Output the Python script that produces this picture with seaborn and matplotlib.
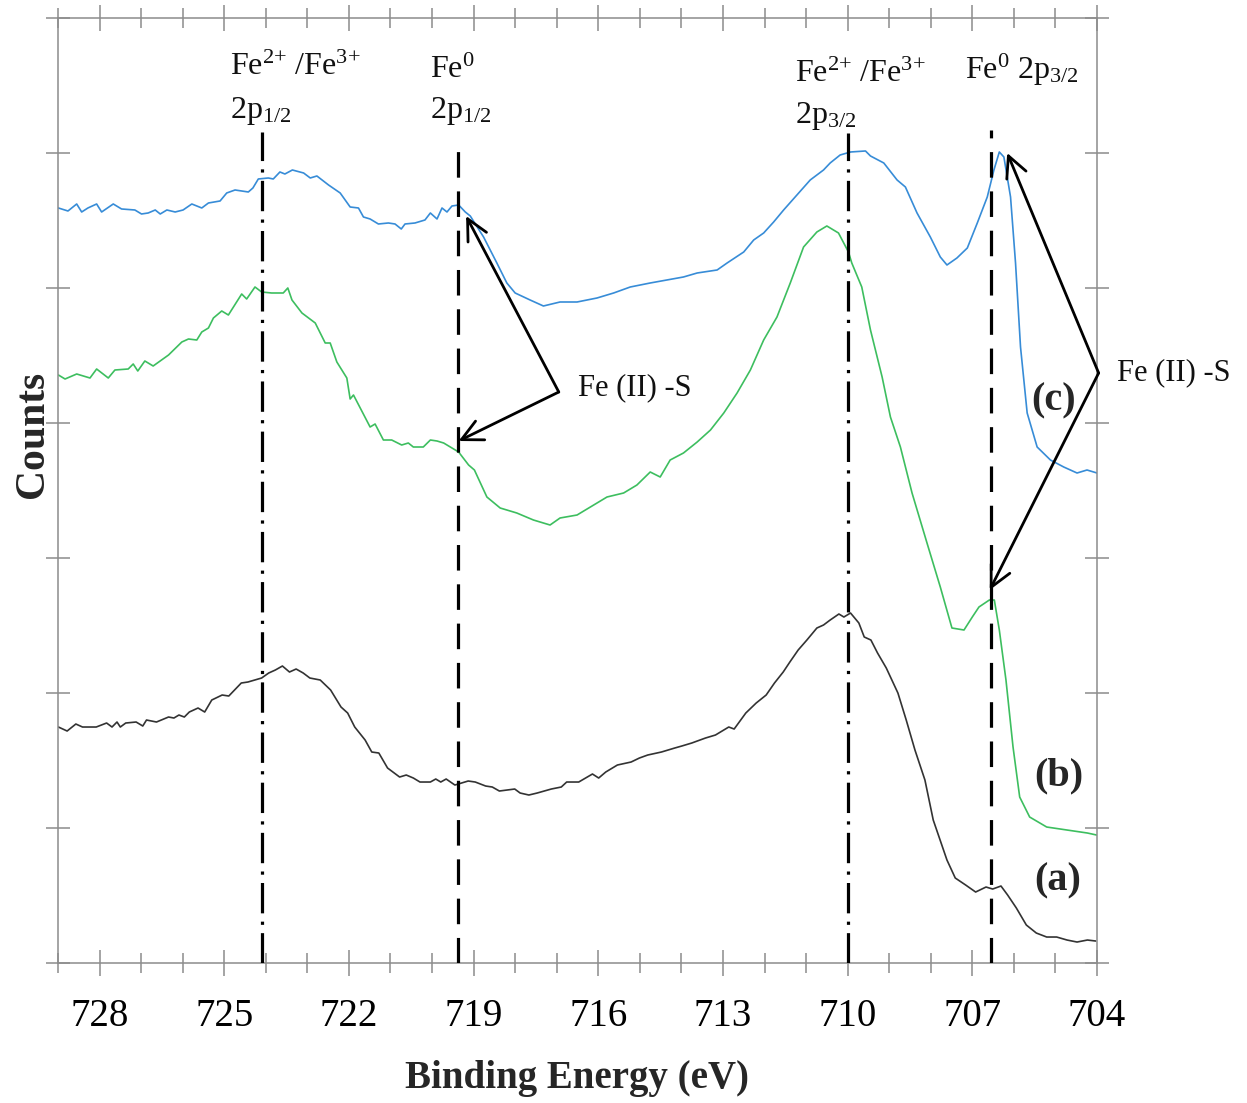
import numpy as np
import pandas as pd
import matplotlib
matplotlib.use("Agg")
import matplotlib.pyplot as plt
from matplotlib.ticker import MultipleLocator
import seaborn as sns

# ---------------- data ----------------
energy_a = [728.99, 728.78, 728.57, 728.41, 728.08, 727.83, 727.70, 727.58, 727.50, 727.37,
            727.12, 726.96, 726.87, 726.63, 726.34, 726.21, 726.09, 725.96, 725.84, 725.63,
            725.47, 725.30, 725.05, 724.89, 724.59, 724.43, 724.10, 723.93, 723.77, 723.60,
            723.43, 723.27, 723.10, 722.94, 722.69, 722.44, 722.19, 722.03, 721.86, 721.61,
            721.45, 721.28, 721.07, 720.78, 720.62, 720.45, 720.29, 720.04, 719.91, 719.79,
            719.66, 719.45, 719.13, 718.96, 718.71, 718.55, 718.38, 718.01, 717.88, 717.67,
            717.47, 717.13, 716.89, 716.76, 716.47, 716.14, 715.99, 715.82, 715.54, 715.21,
            715.01, 714.81, 714.48, 714.16, 713.99, 713.75, 713.42, 713.18, 712.86, 712.73,
            712.45, 712.20, 711.96, 711.76, 711.55, 711.39, 711.19, 710.98, 710.74, 710.58,
            710.42, 710.21, 710.09, 709.93, 709.73, 709.60, 709.44, 709.28, 709.07, 708.79,
            708.59, 708.38, 708.14, 707.94, 707.61, 707.41, 707.16, 706.92, 706.67, 706.51,
            706.31, 706.15, 705.94, 705.70, 705.46, 705.21, 704.97, 704.72, 704.48, 704.23,
            704.03]
counts_a = [236, 232, 239, 236, 236, 240, 236, 241, 236, 240,
            241, 237, 243, 241, 246, 245, 248, 246, 251, 255,
            251, 263, 268, 267, 280, 281, 285, 290, 293, 297,
            291, 294, 290, 285, 283, 273, 256, 250, 236, 223,
            211, 210, 195, 186, 188, 185, 181, 181, 184, 181,
            184, 178, 182, 181, 177, 176, 172, 174, 170, 168,
            170, 174, 176, 181, 181, 189, 185, 191, 198, 201,
            205, 208, 211, 215, 217, 220, 225, 228, 236, 234,
            250, 260, 268, 280, 291, 301, 313, 323, 335, 338,
            343, 349, 346, 350, 340, 326, 323, 310, 295, 270,
            243, 213, 183, 143, 103, 85, 78, 71, 76, 74,
            77, 68, 55, 38, 30, 26, 26, 23, 21, 23,
            22]

energy_b = [728.99, 728.83, 728.55, 728.23, 728.07, 727.79, 727.63, 727.31, 727.19, 727.08,
            726.91, 726.71, 726.34, 726.02, 725.86, 725.66, 725.54, 725.38, 725.26, 725.06,
            724.90, 724.58, 724.46, 724.26, 724.10, 723.86, 723.58, 723.47, 723.37, 723.13,
            722.81, 722.57, 722.45, 722.29, 722.05, 721.97, 721.89, 721.49, 721.37, 721.17,
            720.97, 720.73, 720.57, 720.45, 720.21, 720.04, 719.88, 719.72, 719.36, 719.12,
            718.98, 718.68, 718.36, 717.96, 717.56, 717.16, 716.92, 716.51, 716.11, 715.79,
            715.39, 715.07, 714.75, 714.51, 714.27, 713.95, 713.62, 713.30, 712.98, 712.66,
            712.34, 712.02, 711.70, 711.38, 711.06, 710.74, 710.50, 710.22, 709.98, 709.90,
            709.66, 709.45, 709.17, 708.97, 708.73, 708.45, 708.09, 707.77, 707.49, 707.20,
            707.00, 706.84, 706.59, 706.47, 706.35, 706.19, 706.02, 705.86, 705.62, 705.21,
            704.72, 704.23, 704.01]
counts_b = [588, 584, 589, 585, 594, 585, 593, 594, 599, 592,
            602, 597, 608, 621, 624, 623, 631, 635, 645, 652,
            648, 669, 664, 676, 671, 670, 670, 675, 663, 650,
            640, 620, 620, 601, 585, 564, 568, 536, 539, 523,
            523, 518, 520, 516, 516, 523, 522, 520, 511, 498,
            493, 466, 455, 450, 443, 438, 445, 448, 458, 466,
            470, 478, 491, 486, 503, 510, 521, 533, 550, 570,
            593, 623, 646, 680, 716, 731, 737, 730, 711, 700,
            676, 633, 586, 546, 516, 470, 420, 376, 335, 333,
            346, 356, 363, 363, 333, 283, 216, 166, 146, 136,
            133, 130, 128]

energy_c = [728.99, 728.76, 728.55, 728.43, 728.28, 728.07, 727.95, 727.67, 727.47, 727.15,
            726.99, 726.83, 726.66, 726.54, 726.38, 726.18, 725.99, 725.78, 725.54, 725.38,
            725.10, 724.94, 724.74, 724.42, 724.31, 724.18, 723.94, 723.82, 723.66, 723.54,
            723.36, 723.09, 722.93, 722.77, 722.49, 722.21, 721.97, 721.77, 721.65, 721.49,
            721.29, 721.05, 720.89, 720.74, 720.65, 720.41, 720.17, 720.04, 719.88, 719.76,
            719.64, 719.52, 719.36, 719.20, 719.08, 718.76, 718.44, 718.20, 718.00, 717.64,
            717.32, 716.92, 716.51, 716.03, 715.63, 715.23, 714.75, 714.35, 713.95, 713.62,
            713.14, 712.90, 712.50, 712.26, 712.02, 711.78, 711.54, 711.22, 710.90, 710.58,
            710.42, 710.18, 709.93, 709.57, 709.45, 709.13, 708.81, 708.61, 708.33, 708.01,
            707.77, 707.61, 707.37, 707.12, 706.88, 706.64, 706.48, 706.35, 706.24, 706.08,
            705.96, 705.84, 705.68, 705.44, 705.12, 704.80, 704.48, 704.24, 704.00]
counts_c = [755, 752, 759, 751, 755, 759, 751, 759, 754, 753,
            749, 750, 753, 749, 753, 751, 753, 759, 755, 760,
            762, 770, 773, 771, 775, 784, 785, 784, 791, 789,
            793, 790, 785, 787, 778, 770, 756, 755, 746, 744,
            739, 740, 739, 734, 739, 740, 743, 750, 744, 755,
            751, 757, 758, 751, 747, 726, 700, 680, 670, 663,
            657, 661, 661, 665, 670, 676, 680, 683, 686, 690,
            693, 700, 711, 723, 730, 741, 753, 768, 783, 793,
            800, 808, 811, 812, 807, 800, 783, 776, 750, 726,
            706, 698, 705, 715, 740, 766, 793, 811, 806, 766,
            700, 616, 550, 516, 503, 496, 490, 493, 490]

sample_names = ["(a)", "(b)", "(c)"]
sample_colors = ["#333333", "#3dbe5f", "#378cd7"]

xtick_values = [728, 725, 722, 719, 716, 713, 710, 707, 704]
xtick_labels = ["728", "725", "722", "719", "716", "713", "710", "707", "704"]

ref_energy = [724.1, 719.37, 710.0, 706.55]
ref_top = [831, 824, 830, 833]
ref_kind = ["dashdot", "dashed", "dashdot", "dashed"]

peak_text = [r"Fe$^{2{+}}$ /Fe$^{3{+}}$", r"2p$_{1/2}$", r"Fe$^{0}$", r"2p$_{1/2}$",
             r"Fe$^{2{+}}$ /Fe$^{3{+}}$", r"2p$_{3/2}$", r"Fe$^{0}$ 2p$_{3/2}$"]
peak_text_x = [724.86, 724.86, 720.04, 720.04, 711.26, 711.26, 707.17]
peak_text_y = [888, 845, 885, 845, 881, 840, 884]

arrow_from_x = [716.95, 716.95, 703.96, 703.96]
arrow_from_y = [571, 571, 590, 590]
arrow_to_x = [719.18, 719.36, 706.16, 706.58]
arrow_to_y = [747, 522, 810, 373]

feS_label = "Fe (II) -S"
feS_x = [716.48, 703.51]
feS_y = [575, 590]

sample_label_x = [704.95, 704.93, 705.04]
sample_label_y = [82, 187, 562]

# ---------------- style ----------------
sns.set_style("white")
plt.rcParams["font.family"] = ["Liberation Serif", "DejaVu Serif"]
plt.rcParams["mathtext.fontset"] = "custom"
plt.rcParams["mathtext.rm"] = "Liberation Serif"
plt.rcParams["mathtext.it"] = "Liberation Serif:italic"
plt.rcParams["mathtext.bf"] = "Liberation Serif:bold"
plt.rcParams["mathtext.default"] = "regular"

fig = plt.figure(figsize=(12.47, 11.03), dpi=100)
ax = fig.add_axes([0.0465, 0.1269, 0.8332, 0.8568])

df = pd.concat([
    pd.DataFrame({"energy": energy_a, "counts": counts_a, "sample": sample_names[0]}),
    pd.DataFrame({"energy": energy_b, "counts": counts_b, "sample": sample_names[1]}),
    pd.DataFrame({"energy": energy_c, "counts": counts_c, "sample": sample_names[2]}),
], ignore_index=True)

sns.lineplot(data=df, x="energy", y="counts", hue="sample",
             palette=dict(zip(sample_names, sample_colors)),
             sort=False, estimator=None, legend=False, linewidth=1.2, ax=ax)

# reference lines
styles = {"dashdot": (0, (9.5, 2.6, 1.0, 2.6)), "dashed": (0, (8.0, 4.3))}
for e, top, kind in zip(ref_energy, ref_top, ref_kind):
    ax.plot([e, e], [0, top], color="black", lw=2.3, linestyle=styles[kind],
            dash_capstyle="butt", zorder=3)

# axes
ax.set_xlim(729, 704)
ax.set_ylim(0, 945)
ax.set_xticks(xtick_values)
ax.set_xticklabels(xtick_labels)
ax.xaxis.set_minor_locator(MultipleLocator(1))
ax.set_yticks(np.arange(0, 946, 135))
ax.set_yticklabels([])

spine_col = "#8c8c8c"
for s in ax.spines.values():
    s.set_visible(True)
    s.set_color(spine_col)
    s.set_linewidth(1.1)

ax.tick_params(axis="x", which="major", direction="inout", length=19, width=1.1,
               color=spine_col, top=True, bottom=True, labelsize=28, pad=16,
               labelcolor="black")
ax.tick_params(axis="x", which="minor", direction="inout", length=14, width=1.1,
               color=spine_col, top=True, bottom=True)
ax.tick_params(axis="y", which="major", direction="inout", length=17, width=1.1,
               color=spine_col, left=True, right=True, labelleft=False)

ax.set_xlabel("Binding Energy (eV)", fontsize=28, fontweight="bold")
ax.xaxis.set_label_coords(0.5, -0.103)
ax.set_ylabel("Counts", fontsize=30, fontweight="bold")
ax.yaxis.set_label_coords(-0.006, 0.559)

# peak labels
for t, x, y in zip(peak_text, peak_text_x, peak_text_y):
    ax.text(x, y, t, fontsize=23, ha="left", va="baseline", color="#111111")

# arrows
for x0, y0, x1, y1 in zip(arrow_from_x, arrow_from_y, arrow_to_x, arrow_to_y):
    ax.annotate("", xy=(x1, y1), xytext=(x0, y0), annotation_clip=False,
                arrowprops=dict(arrowstyle="->,head_length=0.6,head_width=0.3",
                                mutation_scale=25, lw=2.0, color="black",
                                shrinkA=0, shrinkB=0))

for x, y in zip(feS_x, feS_y):
    ax.text(x, y, feS_label, fontsize=22, ha="left", va="center", clip_on=False,
            color="#111111")

for name, x, y in zip(sample_names, sample_label_x, sample_label_y):
    ax.text(x, y, name, fontsize=29, fontweight="bold", ha="center", va="center")

fig.savefig("out.png", dpi=100)
